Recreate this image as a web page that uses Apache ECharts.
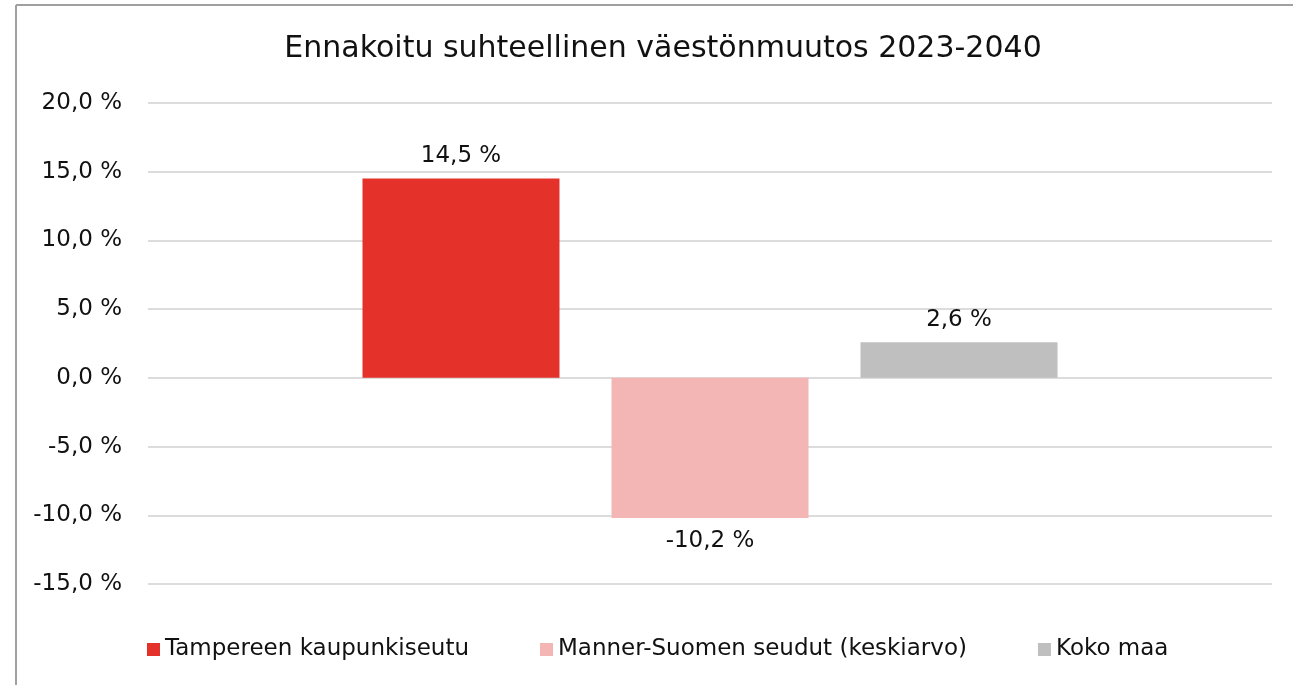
<!DOCTYPE html>
<html lang="fi">
	<head>
		<meta charset="UTF-8" />
		<title>Ennakoitu väestönmuutos</title>
		<script src="https://cdn.jsdelivr.net/npm/echarts@6/dist/echarts.min.js"></script>
		<style>
			html, body { margin: 0; padding: 0; background: #fff; }
		</style>
	</head>
	<body>
		<div id="main" style="width: 1293px; height: 685px"></div>
		<script type="text/javascript">
			// data
			const categories = ["2023-2040"];
			const seriesNames = ["Tampereen kaupunkiseutu", "Manner-Suomen seudut (keskiarvo)", "Koko maa"];
			const seriesValues = [14.5, -10.2, 2.6];
			const seriesColors = ["#e4322b", "#f4b6b5", "#bfbfbf"];
			const yTicks = { min: -15, max: 20, interval: 5 };

			const font = "DejaVu Sans";
			const fmt = (v) => v.toFixed(1).replace(".", ",") + " %";

			let myChart = echarts.init(document.getElementById("main"));

			let options = {
				backgroundColor: "#fff",
				animation: false,
				title: {
					text: "Ennakoitu suhteellinen väestönmuutos 2023-2040",
					left: 658,
					textAlign: "center",
					top: 29,
					textStyle: { fontFamily: font, fontSize: 30, fontWeight: 400, color: "#111" },
				},
				legend: {
					bottom: 19,
					left: 142,
					itemWidth: 13,
					itemHeight: 13,
					itemGap: 71,
					icon: "rect",
					textStyle: { fontFamily: font, fontSize: 23, color: "#111" },
					data: seriesNames,
				},
				grid: { left: 148, right: 21, top: 103, bottom: 101 },
				xAxis: {
					type: "category",
					data: categories,
					axisLine: { show: false },
					axisTick: { show: false },
					axisLabel: { show: false },
				},
				yAxis: {
					type: "value",
					min: yTicks.min,
					max: yTicks.max,
					interval: yTicks.interval,
					axisLine: { show: false },
					axisTick: { show: false },
					axisLabel: {
						margin: 26,
						fontFamily: font,
						fontSize: 23,
						color: "#111",
						formatter: fmt,
					},
					splitLine: { lineStyle: { color: "#dcdcdc", width: 2 } },
				},
				series: seriesNames.map((name, i) => ({
					name: name,
					type: "bar",
					barWidth: 197,
					barGap: "26.4%",
					itemStyle: { color: seriesColors[i] },
					label: {
						show: true,
						position: seriesValues[i] < 0 ? "bottom" : "top",
						distance: 11,
						fontFamily: font,
						fontSize: 23,
						color: "#111",
						formatter: (p) => fmt(p.value),
					},
					data: [seriesValues[i]],
				})),
				graphic: [
					{ type: "line", shape: { x1: 16, y1: 5, x2: 1293, y2: 5 }, style: { stroke: "#a0a0a0", lineWidth: 2 } },
					{ type: "line", shape: { x1: 16, y1: 5, x2: 16, y2: 685 }, style: { stroke: "#a0a0a0", lineWidth: 2 } },
				],
			};
			myChart.setOption(options);
		</script>
	</body>
</html>
